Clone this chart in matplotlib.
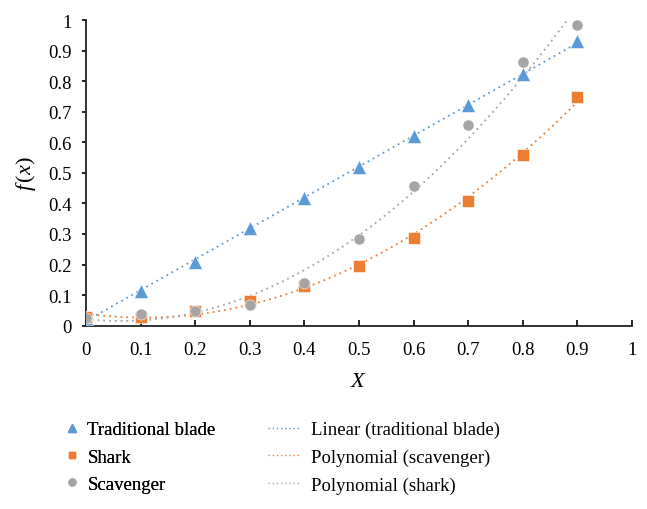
import numpy as np
import matplotlib
matplotlib.use("Agg")
import matplotlib.pyplot as plt
from matplotlib.lines import Line2D

x = [0, 0.1, 0.2, 0.3, 0.4, 0.5, 0.6, 0.7, 0.8, 0.9]
traditional = [0.025, 0.115, 0.21, 0.318, 0.417, 0.52, 0.62, 0.722, 0.823, 0.93]
shark = [0.027, 0.027, 0.047, 0.082, 0.131, 0.196, 0.288, 0.409, 0.558, 0.749]
scavenger = [0.025, 0.038, 0.049, 0.068, 0.14, 0.284, 0.456, 0.658, 0.864, 0.984]

xticks = [0, 0.1, 0.2, 0.3, 0.4, 0.5, 0.6, 0.7, 0.8, 0.9, 1]
xtick_labels = ["0", "0.1", "0.2", "0.3", "0.4", "0.5", "0.6", "0.7", "0.8", "0.9", "1"]
yticks = [0, 0.1, 0.2, 0.3, 0.4, 0.5, 0.6, 0.7, 0.8, 0.9, 1]
ytick_labels = ["0", "0.1", "0.2", "0.3", "0.4", "0.5", "0.6", "0.7", "0.8", "0.9", "1"]

BLUE = "#5B9BD5"
ORANGE = "#ED7D31"
GRAY = "#A5A5A5"

plt.rcParams["font.family"] = ["Liberation Serif", "DejaVu Serif"]
plt.rcParams["mathtext.fontset"] = "custom"
plt.rcParams["mathtext.rm"] = "Liberation Serif"
plt.rcParams["mathtext.it"] = "Liberation Serif:italic"
FS = 13.5

fig = plt.figure(figsize=(6.47, 5.10), dpi=100)
ax = fig.add_axes([86 / 647, 1 - 326.7 / 510, (632 - 86) / 647, (326.7 - 21) / 510])

xa = np.array(x)
xf = np.linspace(0, 0.9, 200)
lin = np.polyfit(xa, traditional, 1)
ps = np.polyfit(xa, shark, 2)
pv = np.polyfit(xa, scavenger, 2)

dot = (0, (1, 2.2))
ax.plot(xf, np.polyval(lin, xf), color=BLUE, lw=1.3, ls=dot, zorder=2)
ax.plot(xf, np.polyval(ps, xf), color=ORANGE, lw=1.3, ls=dot, zorder=2)
ax.plot(xf, np.polyval(pv, xf), color=GRAY, lw=1.3, ls=dot, zorder=2)

ax.plot(x, traditional, ls="none", marker="^", ms=10, color=BLUE, mec="white", mew=0.4, zorder=3)
ax.plot(x, shark, ls="none", marker="s", ms=8.5, color=ORANGE, mec="white", mew=0.4, zorder=3)
ax.plot(x, scavenger, ls="none", marker="o", ms=8, color=GRAY, mec="white", mew=0.4, zorder=4)

ax.set_xlim(0, 1)
ax.set_ylim(0, 1)
ax.set_xticks(xticks)
ax.set_xticklabels(xtick_labels, fontsize=FS)
ax.set_yticks(yticks)
ax.set_yticklabels(ytick_labels, fontsize=FS)
ax.tick_params(axis="x", direction="in", length=4, width=1.2, pad=11)
ax.tick_params(axis="y", direction="out", length=3, width=1.2, pad=7)
for s in ["top", "right"]:
    ax.spines[s].set_visible(False)
for s in ["left", "bottom"]:
    ax.spines[s].set_linewidth(1.3)
    ax.spines[s].set_color("#222222")

ax.set_xlabel("$X$", fontsize=16, labelpad=10)
ax.set_ylabel("$f\\,(x)$", fontsize=16, labelpad=8)

h1 = [
    Line2D([], [], ls="none", marker="^", ms=5.5, color=BLUE),
    Line2D([], [], ls="none", marker="s", ms=5, color=ORANGE),
    Line2D([], [], ls="none", marker="o", ms=5, color=GRAY),
]
l1 = ["Traditional blade", "Shark", "Scavenger"]
h2 = [
    Line2D([], [], color=BLUE, lw=1.0, ls=(0, (1, 2))),
    Line2D([], [], color=ORANGE, lw=1.0, ls=(0, (1, 2))),
    Line2D([], [], color=GRAY, lw=1.0, ls=(0, (1, 2))),
]
l2 = ["Linear (traditional blade)", "Polynomial (scavenger)", "Polynomial (shark)"]

leg1 = fig.legend(h1, l1, loc="upper left", bbox_to_anchor=(64 / 647, 1 - 422 / 510),
                  frameon=False, fontsize=FS, handlelength=0.8, handletextpad=0.45,
                  labelspacing=0.55, borderaxespad=0, borderpad=0)
leg2 = fig.legend(h2, l2, loc="upper left", bbox_to_anchor=(268 / 647, 1 - 422 / 510),
                  frameon=False, fontsize=FS, handlelength=1.7, handletextpad=0.6,
                  labelspacing=0.55, borderaxespad=0, borderpad=0)
fig.add_artist(leg1)

fig.savefig("out.png", dpi=100)
